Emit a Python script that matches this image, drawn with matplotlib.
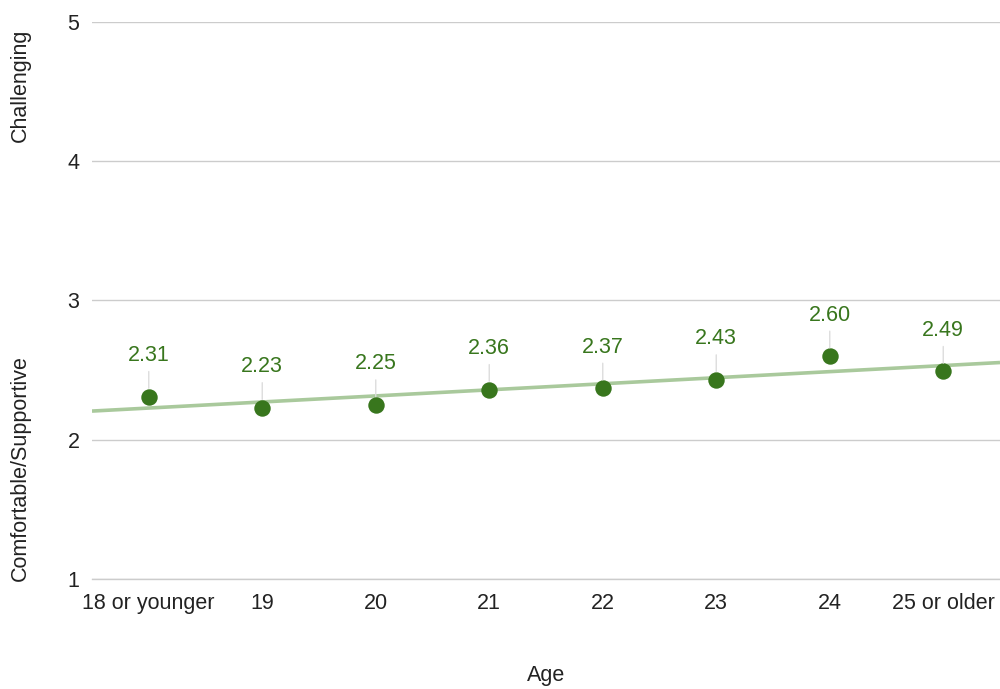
import numpy as np
import matplotlib.pyplot as plt

plt.rcParams["font.family"] = ["Liberation Sans", "DejaVu Sans"]

# data
ages = ["18 or younger", "19", "20", "21", "22", "23", "24", "25 or older"]
scores = [2.31, 2.23, 2.25, 2.36, 2.37, 2.43, 2.60, 2.49]

POINT = "#38761d"
TREND = "#a9c99c"
GRID = "#cccccc"
TXT = "#222222"
FS = 15.5

fig = plt.figure(figsize=(10, 6.89), dpi=100)
ax = fig.add_axes([0.092, 0.1597, 0.908, 0.8084])

x = np.arange(len(ages))

# linear trendline
slope, icpt = np.polyfit(x, scores, 1)
xt = np.array([-0.5, len(ages) - 0.5])
ax.plot(xt, slope * xt + icpt, color=TREND, lw=2.6, zorder=2, solid_capstyle="butt")

ax.scatter(x, scores, s=140, color=POINT, zorder=3, linewidths=0)

for xi, yi in zip(x, scores):
    ax.annotate(f"{yi:.2f}", xy=(xi, yi), xytext=(0, 22), textcoords="offset points",
                ha="center", va="bottom", color=POINT, fontsize=FS,
                arrowprops=dict(arrowstyle="-", color="#dddddd", lw=1,
                                shrinkA=2, shrinkB=6))

ax.set_xlim(-0.5, len(ages) - 0.5)
ax.set_ylim(1, 5)
ax.set_yticks([1, 2, 3, 4, 5])
ax.set_xticks(x)
ax.set_xticklabels(ages)
ax.grid(axis="y", color=GRID, lw=1)
ax.axhline(1, color=GRID, lw=1, clip_on=False, zorder=0)
ax.set_axisbelow(True)
for s in ax.spines.values():
    s.set_visible(False)
ax.tick_params(length=0, labelsize=FS, labelcolor=TXT)
ax.tick_params(axis="y", pad=9)
ax.tick_params(axis="x", pad=10)

fig.text(0.546, 1 - 676 / 689, "Age", ha="center", va="center", fontsize=FS, color=TXT)
fig.text(0.020, 1 - 468 / 689, "Comfortable/Supportive", rotation=90,
         ha="center", va="center", fontsize=FS, color=TXT)
fig.text(0.020, 1 - 85 / 689, "Challenging", rotation=90,
         ha="center", va="center", fontsize=FS, color=TXT)

fig.savefig("out.png", dpi=100)
